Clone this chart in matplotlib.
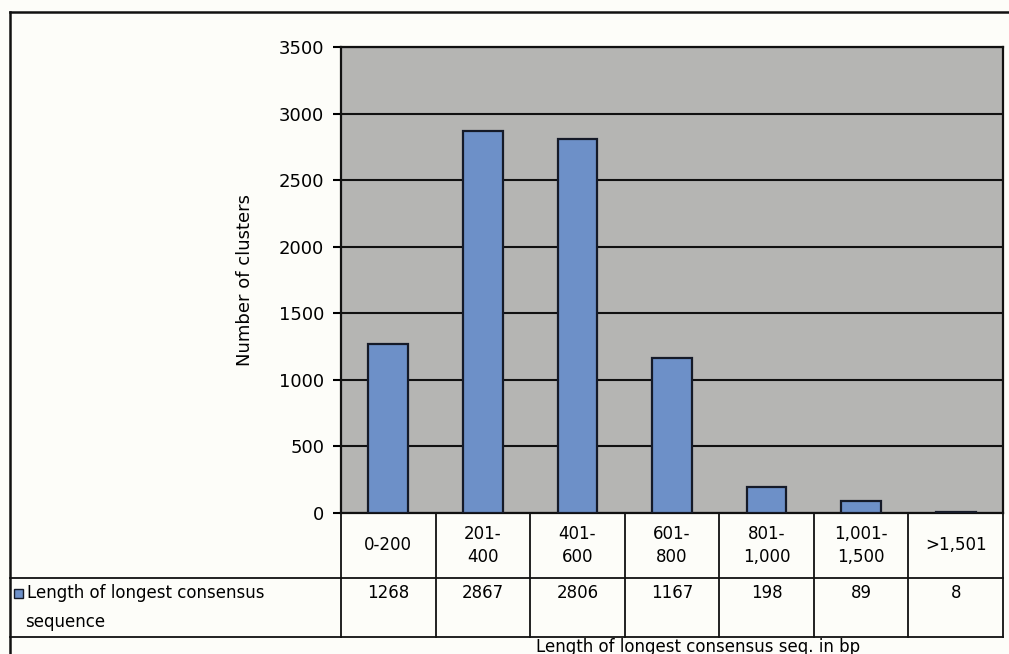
import numpy as np
import matplotlib.pyplot as plt
from matplotlib.lines import Line2D
from matplotlib.patches import Rectangle

categories = ["0-200", "201-\n400", "401-\n600", "601-\n800", "801-\n1,000", "1,001-\n1,500", ">1,501"]
counts = [1268, 2867, 2806, 1167, 198, 89, 8]
series_name = "Length of longest consensus\nsequence"
y_ticks = [0, 500, 1000, 1500, 2000, 2500, 3000, 3500]

W, H = 1009, 654
BAR_BLUE = "#6d90c8"
PLOT_GRAY = "#b5b5b3"
PAPER = "#fdfdf9"


def fx(px):
    return px / W


def fy(py):
    return 1 - py / H


fig = plt.figure(figsize=(W / 100, H / 100), dpi=100, facecolor=PAPER)

# main bar chart
ax = fig.add_axes([fx(341), fy(513), fx(1003) - fx(341), fy(47) - fy(513)])
ax.set_facecolor(PLOT_GRAY)
x = np.arange(len(counts))
ax.bar(x, counts, width=0.42, color=BAR_BLUE, edgecolor="#151a28", linewidth=1.6, zorder=3)
ax.set_xlim(-0.5, len(counts) - 0.5)
ax.set_ylim(0, 3500)
ax.set_yticks(y_ticks)
ax.set_yticklabels([str(v) for v in y_ticks], fontsize=13)
ax.yaxis.grid(True, color="#111111", linewidth=1.5, zorder=1)
ax.tick_params(axis="y", direction="out", length=6, width=1.5, pad=6)
ax.tick_params(axis="x", length=0, labelbottom=False)
for s in ax.spines.values():
    s.set_linewidth(1.6)
    s.set_color("#111111")
ax.set_ylabel("Number of clusters", fontsize=13, labelpad=18)

# data table under the chart, sharing the category positions
tab = fig.add_axes([fx(341), fy(637), fx(1003) - fx(341), fy(513) - fy(637)], sharex=ax)
tab.set_facecolor("none")
tab.set_ylim(0, 1)
tab.axis("off")
row_split = (637 - 578) / (637 - 513)
lw = 1.3
for edge in np.arange(len(counts) + 1) - 0.5:
    tab.plot([edge, edge], [0, 1], color="#111111", lw=lw, clip_on=False)
tab.plot([-0.5, len(counts) - 0.5], [row_split, row_split], color="#111111", lw=lw, clip_on=False)
tab.plot([-0.5, len(counts) - 0.5], [0, 0], color="#111111", lw=lw, clip_on=False)
for i, (cat, val) in enumerate(zip(categories, counts)):
    tab.text(i, (1 + row_split) / 2, cat, ha="center", va="center", fontsize=12,
             linespacing=1.35)
    tab.text(i, row_split - 0.12, str(val), ha="center", va="center", fontsize=12)

# series label cell on the left of the table
for seg in [((10, 341), (578, 578)), ((10, 341), (637, 637))]:
    fig.add_artist(Line2D([fx(seg[0][0]), fx(seg[0][1])], [fy(seg[1][0]), fy(seg[1][1])],
                          color="#111111", lw=lw))
fig.add_artist(Rectangle((fx(14), fy(598)), fx(9), 9 / H, facecolor=BAR_BLUE,
                         edgecolor="#151a28", lw=1))
first, second = series_name.split("\n")
fig.text(fx(27), fy(593), first, ha="left", va="center", fontsize=12)
fig.text(fx(25), fy(622), second, ha="left", va="center", fontsize=12)

# outer frame
fig.add_artist(Line2D([fx(10), fx(10)], [fy(12), 0], color="#111111", lw=1.8))
fig.add_artist(Line2D([fx(10), 1], [fy(12), fy(12)], color="#111111", lw=1.8))

fig.text(fx(698), fy(652), "Length of longest consensus seq. in bp", ha="center",
         va="baseline", fontsize=12)

fig.savefig("out.png", dpi=100, facecolor=PAPER)
